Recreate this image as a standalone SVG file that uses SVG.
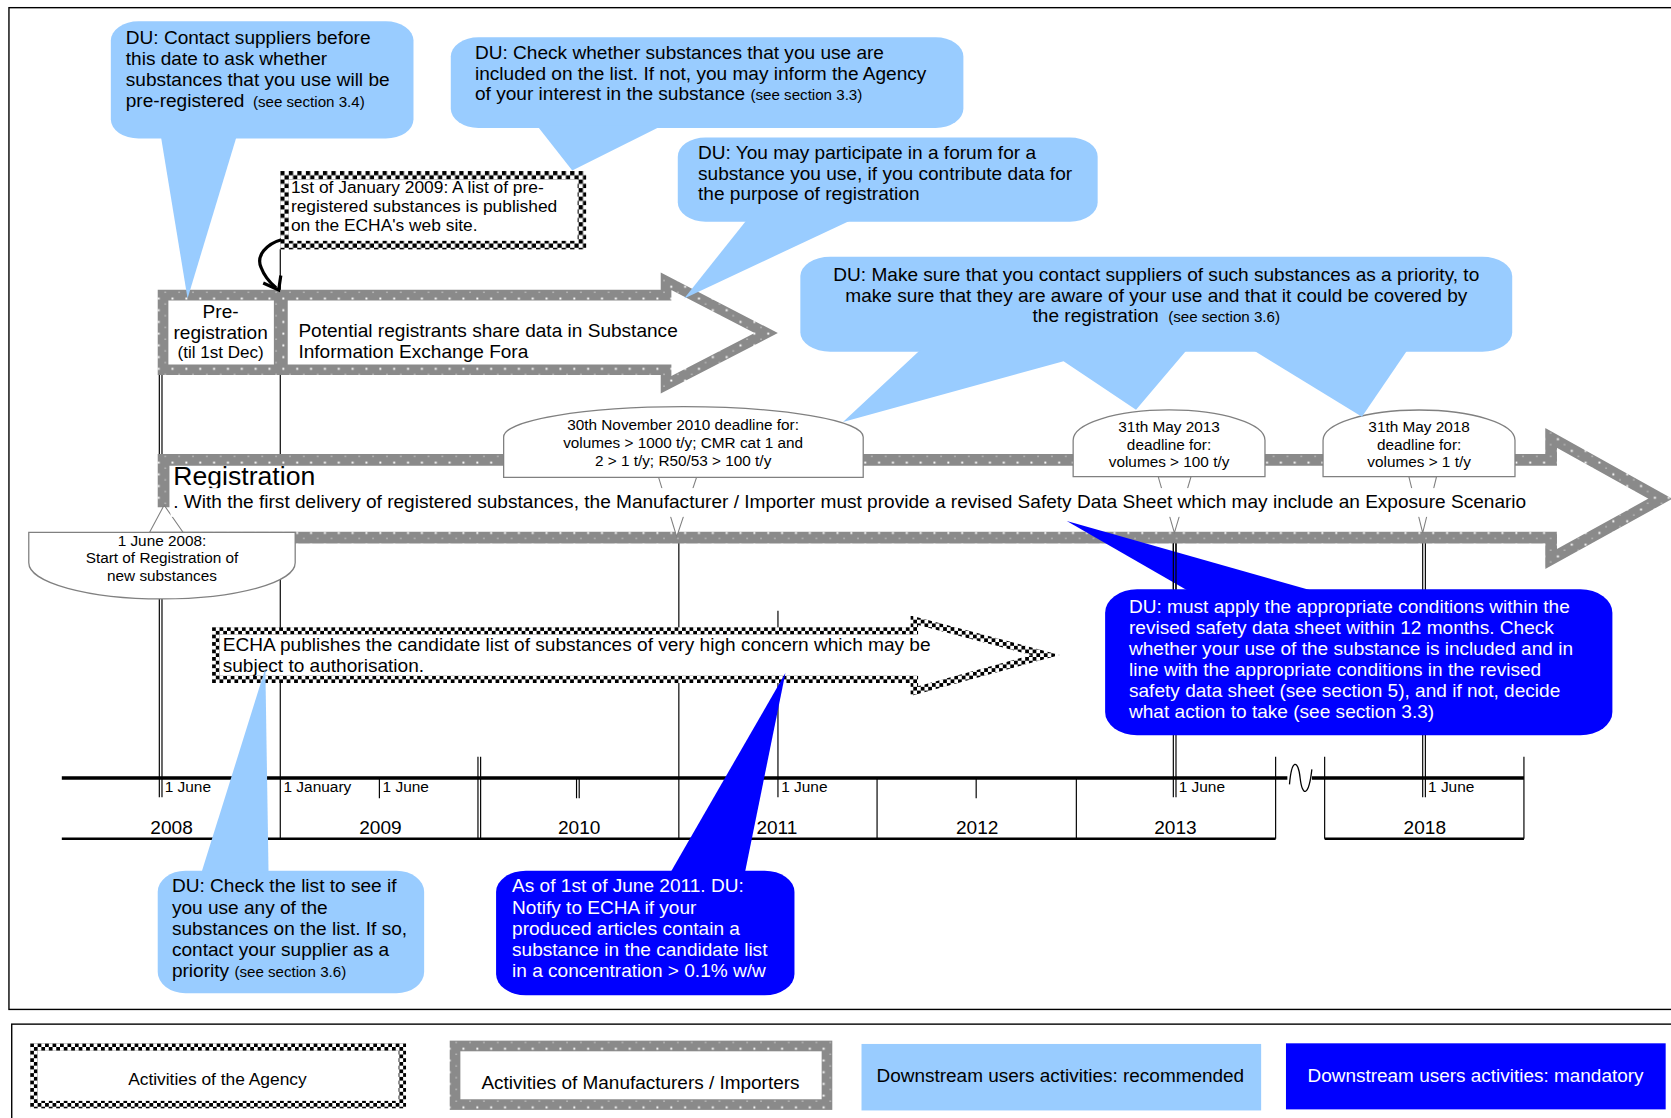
<svg xmlns="http://www.w3.org/2000/svg" width="1671" height="1118" viewBox="0 0 1671 1118">
<style>
.t{font-family:"Liberation Sans",Arial,Helvetica,sans-serif;fill:#000}
.w{fill:#fff}
.f17{font-size:17.9px}
.f16{font-size:16.3px}
.f14{font-size:14.4px}
.f13{font-size:14.5px}
.sm{font-size:14.2px}
.lg{font-size:17.8px}
.lb{fill:#99CCFF}
.db{fill:#0000FF}
.vl{stroke:#000;stroke-width:1.1;fill:none}
.dome{fill:#fff;stroke:#808080;stroke-width:1.2}
.ptr{fill:#fff;stroke:#808080;stroke-width:1}
.mfg{fill:#fff;stroke:url(#mfg);stroke-miterlimit:10}
</style>
<defs>
<pattern id="chkA" x="263" y="160.5" width="8" height="8" patternUnits="userSpaceOnUse">
<rect width="8" height="8" fill="#fff"/>
<rect width="4" height="4" fill="#000"/>
<rect x="4" y="4" width="4" height="4" fill="#000"/>
</pattern>
<pattern id="chkE" x="199" y="588.5" width="7" height="7" patternUnits="userSpaceOnUse">
<rect width="7" height="7" fill="#fff"/>
<rect width="3.5" height="3.5" fill="#000"/>
<rect x="3.5" y="3.5" width="3.5" height="3.5" fill="#000"/>
</pattern>
<pattern id="chkL" x="28.3" y="979" width="7" height="7" patternUnits="userSpaceOnUse">
<rect width="7" height="7" fill="#fff"/>
<rect width="3.5" height="3.5" fill="#000"/>
<rect x="3.5" y="3.5" width="3.5" height="3.5" fill="#000"/>
</pattern>
<pattern id="mfg" width="13" height="11" patternUnits="userSpaceOnUse">
<rect width="13" height="11" fill="#8a8a8a"/>
<rect x="5" y="4.2" width="1.8" height="1.8" fill="#fff"/>
<rect x="11.5" y="9.7" width="1.2" height="1.2" fill="#d0d0d0"/>
</pattern>
</defs>
<rect width="1671" height="1118" fill="#fff"/>
<g transform="scale(1.06569)">
<g id="frames" fill="none" stroke="#000" stroke-width="1.3">
<rect x="8.4" y="7.2" width="1580" height="940"/>
<rect x="11" y="961" width="1580" height="110"/>
</g>

<g id="timeline">
<g class="vl">
<path d="M149.5,352V748M152,352V748"/>
<path d="M263,234V787"/>
<path d="M637,505V787"/>
<path d="M730,573V748"/>
<path d="M1101,505V748M1103.5,505V748"/>
<path d="M1335,505V748M1337.5,505V748"/>
<path d="M356,731V749"/>
<path d="M448.5,710V787M451,710V787"/>
<path d="M541,731V749M543.5,731V749"/>
<path d="M823,731V787"/>
<path d="M916,731V749"/>
<path d="M1010,731V787"/>
<path d="M1197,710V787"/>
<path d="M1243,710V787"/>
<path d="M1430,710V787"/>
</g>
<path d="M58,730H1208M1231,730H1430" stroke="#000" stroke-width="3.3" fill="none"/>
<path d="M58,787H1197M1243,787H1430" stroke="#000" stroke-width="2.4" fill="none"/>
<path d="M1210,736C1212,712 1218,712 1220,730C1222,748 1228,748 1231,722" stroke="#000" stroke-width="1.2" fill="none"/>
<g class="t f13">
<text x="154.5" y="743.5">1 June</text>
<text x="266" y="743.5">1 January</text>
<text x="359" y="743.5">1 June</text>
<text x="733" y="743.5">1 June</text>
<text x="1106" y="743.5">1 June</text>
<text x="1340" y="743.5">1 June</text>
</g>
<g class="t f17" text-anchor="middle">
<text x="161" y="783">2008</text>
<text x="357" y="783">2009</text>
<text x="543.5" y="783">2010</text>
<text x="729" y="783">2011</text>
<text x="917" y="783">2012</text>
<text x="1103" y="783">2013</text>
<text x="1337" y="783">2018</text>
</g>
</g>

<g id="forum-arrow">
<path class="mfg" stroke-width="10" d="M153,277H625V264L719,312.5L625,361V347H153Z"/>
<rect x="257" y="277" width="13" height="70" fill="url(#mfg)"/>
<text class="t f17" x="280" y="316">Potential registrants share data in Substance</text>
<text class="t f17" x="280" y="336">Information Exchange Fora</text>
</g>
<g id="pre-registration">
<text class="t f17" x="207" y="298.5" text-anchor="middle">Pre-</text>
<text class="t f17" x="207" y="318" text-anchor="middle">registration</text>
<text class="t" style="font-size:16px" x="207" y="335.5" text-anchor="middle">(til 1st Dec)</text>
</g>

<g id="agency-list-published">
<rect x="267" y="164.5" width="279" height="65.5" fill="#fff" stroke="url(#chkA)" stroke-width="8"/>
<g class="t f16">
<text x="273" y="181.5">1st of January 2009: A list of pre-</text>
<text x="273" y="199">registered substances is published</text>
<text x="273" y="216.5">on the ECHA's web site.</text>
</g>
</g>

<g id="registration-arrow">
<path class="mfg" stroke-width="11" d="M153.5,431.5H1455.5V411L1558,468L1455.5,524.5V504.5H153.5Z"/>
<rect x="145" y="476" width="16" height="24" fill="#fff"/>
<text class="t" style="font-size:25px" x="162.5" y="455">Registration</text>
</g>

<g id="connectors">
<polygon class="ptr" points="618,448 635,503.6 653.6,448"/>
<polygon class="ptr" points="1086.8,447.3 1102,500 1117.6,447.3"/>
<polygon class="ptr" points="1322,447.3 1335,500 1348,447.3"/>
<polygon class="ptr" points="140.4,499.5 154,474 171.7,499.5"/>
<path d="M264,225C250,229 240,240 245,251C248,259 253,265 259,270" stroke="#000" stroke-width="3" fill="none"/>
<polyline points="247,265.5 261.5,272 263.5,258.5" stroke="#000" stroke-width="3" fill="none"/>
</g>

<g id="registration-text">
<rect x="160" y="458" width="1285" height="27" fill="#fff"/>
<text class="t f17" x="162.5" y="476.8">. With the first delivery of registered substances, the Manufacturer / Importer must provide a revised Safety Data Sheet which may include an Exposure Scenario</text>
</g>

<g id="deadline-2010">
<path class="dome" d="M472.6,448V410A168.7,28.4 0 0 1 810,410V448Z"/>
<g class="t f14" text-anchor="middle">
<text x="641" y="403.6">30th November 2010 deadline for:</text>
<text x="641" y="420.8">volumes &gt; 1000 t/y; CMR cat 1 and</text>
<text x="641" y="437.1">2 &gt; 1 t/y; R50/53  &gt; 100 t/y</text>
</g>
</g>
<g id="deadline-2013">
<path class="dome" d="M1007,447.3V413A90,28.3 0 0 1 1187,413V447.3Z"/>
<g class="t f14" text-anchor="middle">
<text x="1097" y="405.8">31th May 2013</text>
<text x="1097" y="422.4">deadline for:</text>
<text x="1097" y="438.6">volumes &gt; 100 t/y</text>
</g>
</g>
<g id="deadline-2018">
<path class="dome" d="M1241.5,447.3V413A90.05,28.3 0 0 1 1421.6,413V447.3Z"/>
<g class="t f14" text-anchor="middle">
<text x="1331.6" y="405.8">31th May 2018</text>
<text x="1331.6" y="422.4">deadline for:</text>
<text x="1331.6" y="438.6">volumes &gt; 1 t/y</text>
</g>
</g>
<g id="start-registration-2008">
<path class="dome" d="M27,499.5H277V528A125,34 0 0 1 27,528Z"/>
<g class="t f14" text-anchor="middle">
<text x="152" y="512">1 June 2008:</text>
<text x="152" y="528.5">Start of Registration of</text>
<text x="152" y="545">new substances</text>
</g>
</g>

<g id="candidate-list-arrow">
<path fill="#fff" stroke="url(#chkE)" stroke-width="7" stroke-miterlimit="10" d="M202.5,592H858V582L981,614.6L858,648.5V637.5H202.5Z"/>
<text class="t f17" x="209" y="611">ECHA publishes the candidate list of substances of very high concern which may be</text>
<text class="t f17" x="209" y="630.6">subject to authorisation.</text>
</g>

<g id="du-contact-suppliers">
<rect class="lb" x="104" y="20" width="284" height="110" rx="26" ry="18"/>
<polygon class="lb" points="151,128 176,280 222,128"/>
<g class="t f17">
<text x="118" y="41">DU: Contact suppliers before</text>
<text x="118" y="60.7">this date to ask whether</text>
<text x="118" y="80.4">substances that you use will be</text>
<text x="118" y="100">pre-registered <tspan class="sm" dx="3">(see section 3.4)</tspan></text>
</g>
</g>

<g id="du-check-list-published">
<rect class="lb" x="423" y="35" width="481" height="85" rx="26" ry="18"/>
<polygon class="lb" points="504,118 537,160 621,118"/>
<g class="t f17">
<text x="445.7" y="55">DU: Check whether substances that you use are</text>
<text x="445.7" y="74.7">included on the list. If not, you may inform the Agency</text>
<text x="445.7" y="94.2">of your interest in the substance <tspan class="sm">(see section 3.3)</tspan></text>
</g>
</g>

<g id="du-forum">
<rect class="lb" x="636" y="129" width="394" height="79" rx="26" ry="18"/>
<polygon class="lb" points="701,206 642,280 800,206"/>
<g class="t f17">
<text x="655" y="149.6">DU: You may participate in a forum for a</text>
<text x="655" y="168.7">substance you use, if you contribute data for</text>
<text x="655" y="188">the purpose of registration</text>
</g>
</g>

<g id="du-contact-priority">
<rect class="lb" x="751" y="241" width="668" height="89" rx="28" ry="18"/>
<polygon class="lb" points="864,328 791,396 998,339 1066,384.5 1114,328"/>
<polygon class="lb" points="1175,328 1278,391 1321,328"/>
<g class="t f17" text-anchor="middle">
<text x="1085" y="264">DU: Make sure that you contact suppliers of such substances as a priority, to</text>
<text x="1085" y="283">make sure that they are aware of your use and that it could be covered by</text>
<text x="1085" y="302">the registration <tspan class="sm" dx="4">(see section 3.6)</tspan></text>
</g>
</g>

<g id="du-must-apply">
<rect class="db" x="1037" y="553" width="476" height="137" rx="30" ry="22"/>
<polygon class="db" points="1001,489 1116,555 1234,555"/>
<g class="t w f17">
<text class="w" x="1059.4" y="575.3">DU: must apply the appropriate conditions within the</text>
<text class="w" x="1059.4" y="594.7">revised safety data sheet within 12 months. Check</text>
<text class="w" x="1059.4" y="614.4">whether your use of the substance is included and in</text>
<text class="w" x="1059.4" y="634">line with the appropriate conditions in the revised</text>
<text class="w" x="1059.4" y="654">safety data sheet (see section 5), and if not, decide</text>
<text class="w" x="1059.4" y="673.8">what action to take (see section 3.3)</text>
</g>
<path d="M1101,510V553M1103.5,510V553" class="vl"/>
</g>

<g id="du-check-candidate-list">
<rect class="lb" x="148" y="817" width="250" height="115" rx="26" ry="20"/>
<polygon class="lb" points="189,819 249,627 252,819"/>
<g class="t f17">
<text x="161.3" y="837.4">DU: Check the list to see if</text>
<text x="161.3" y="857.4">you use any of the</text>
<text x="161.3" y="877.7">substances on the list. If so,</text>
<text x="161.3" y="896.8">contact your supplier as a</text>
<text x="161.3" y="916.8">priority <tspan class="sm">(see section 3.6)</tspan></text>
</g>
</g>

<g id="du-notify-echa">
<rect class="db" x="465.5" y="817" width="280" height="117" rx="28" ry="20"/>
<polygon class="db" points="629,819 737,631.5 699,819"/>
<g class="t f17">
<text class="w" x="480.5" y="837.4">As of 1st of June 2011. DU:</text>
<text class="w" x="480.5" y="857.4">Notify to ECHA if your</text>
<text class="w" x="480.5" y="877.7">produced articles contain a</text>
<text class="w" x="480.5" y="896.8">substance in the candidate list</text>
<text class="w" x="480.5" y="916.8">in a concentration &gt; 0.1% w/w</text>
</g>
</g>

<g id="legend">
<g id="legend-agency">
<rect x="31.8" y="982.5" width="345.7" height="54" fill="#fff" stroke="url(#chkL)" stroke-width="7"/>
<text class="t" style="font-size:16.3px" x="204" y="1017.8" text-anchor="middle">Activities of the Agency</text>
</g>
<g id="legend-manufacturers">
<rect class="mfg" stroke-width="10" x="427" y="981.5" width="349" height="55"/>
<text class="t lg" x="601" y="1021.7" text-anchor="middle">Activities of Manufacturers / Importers</text>
</g>
<g id="legend-recommended">
<rect class="lb" x="808.4" y="979.6" width="375" height="62.4"/>
<text class="t lg" x="995" y="1015.4" text-anchor="middle">Downstream users activities: recommended</text>
</g>
<g id="legend-mandatory">
<rect class="db" x="1206.7" y="979" width="356.3" height="62"/>
<text class="t w lg" x="1384.6" y="1015.4" text-anchor="middle">Downstream users activities: mandatory</text>
</g>
</g>
</g>
</svg>
